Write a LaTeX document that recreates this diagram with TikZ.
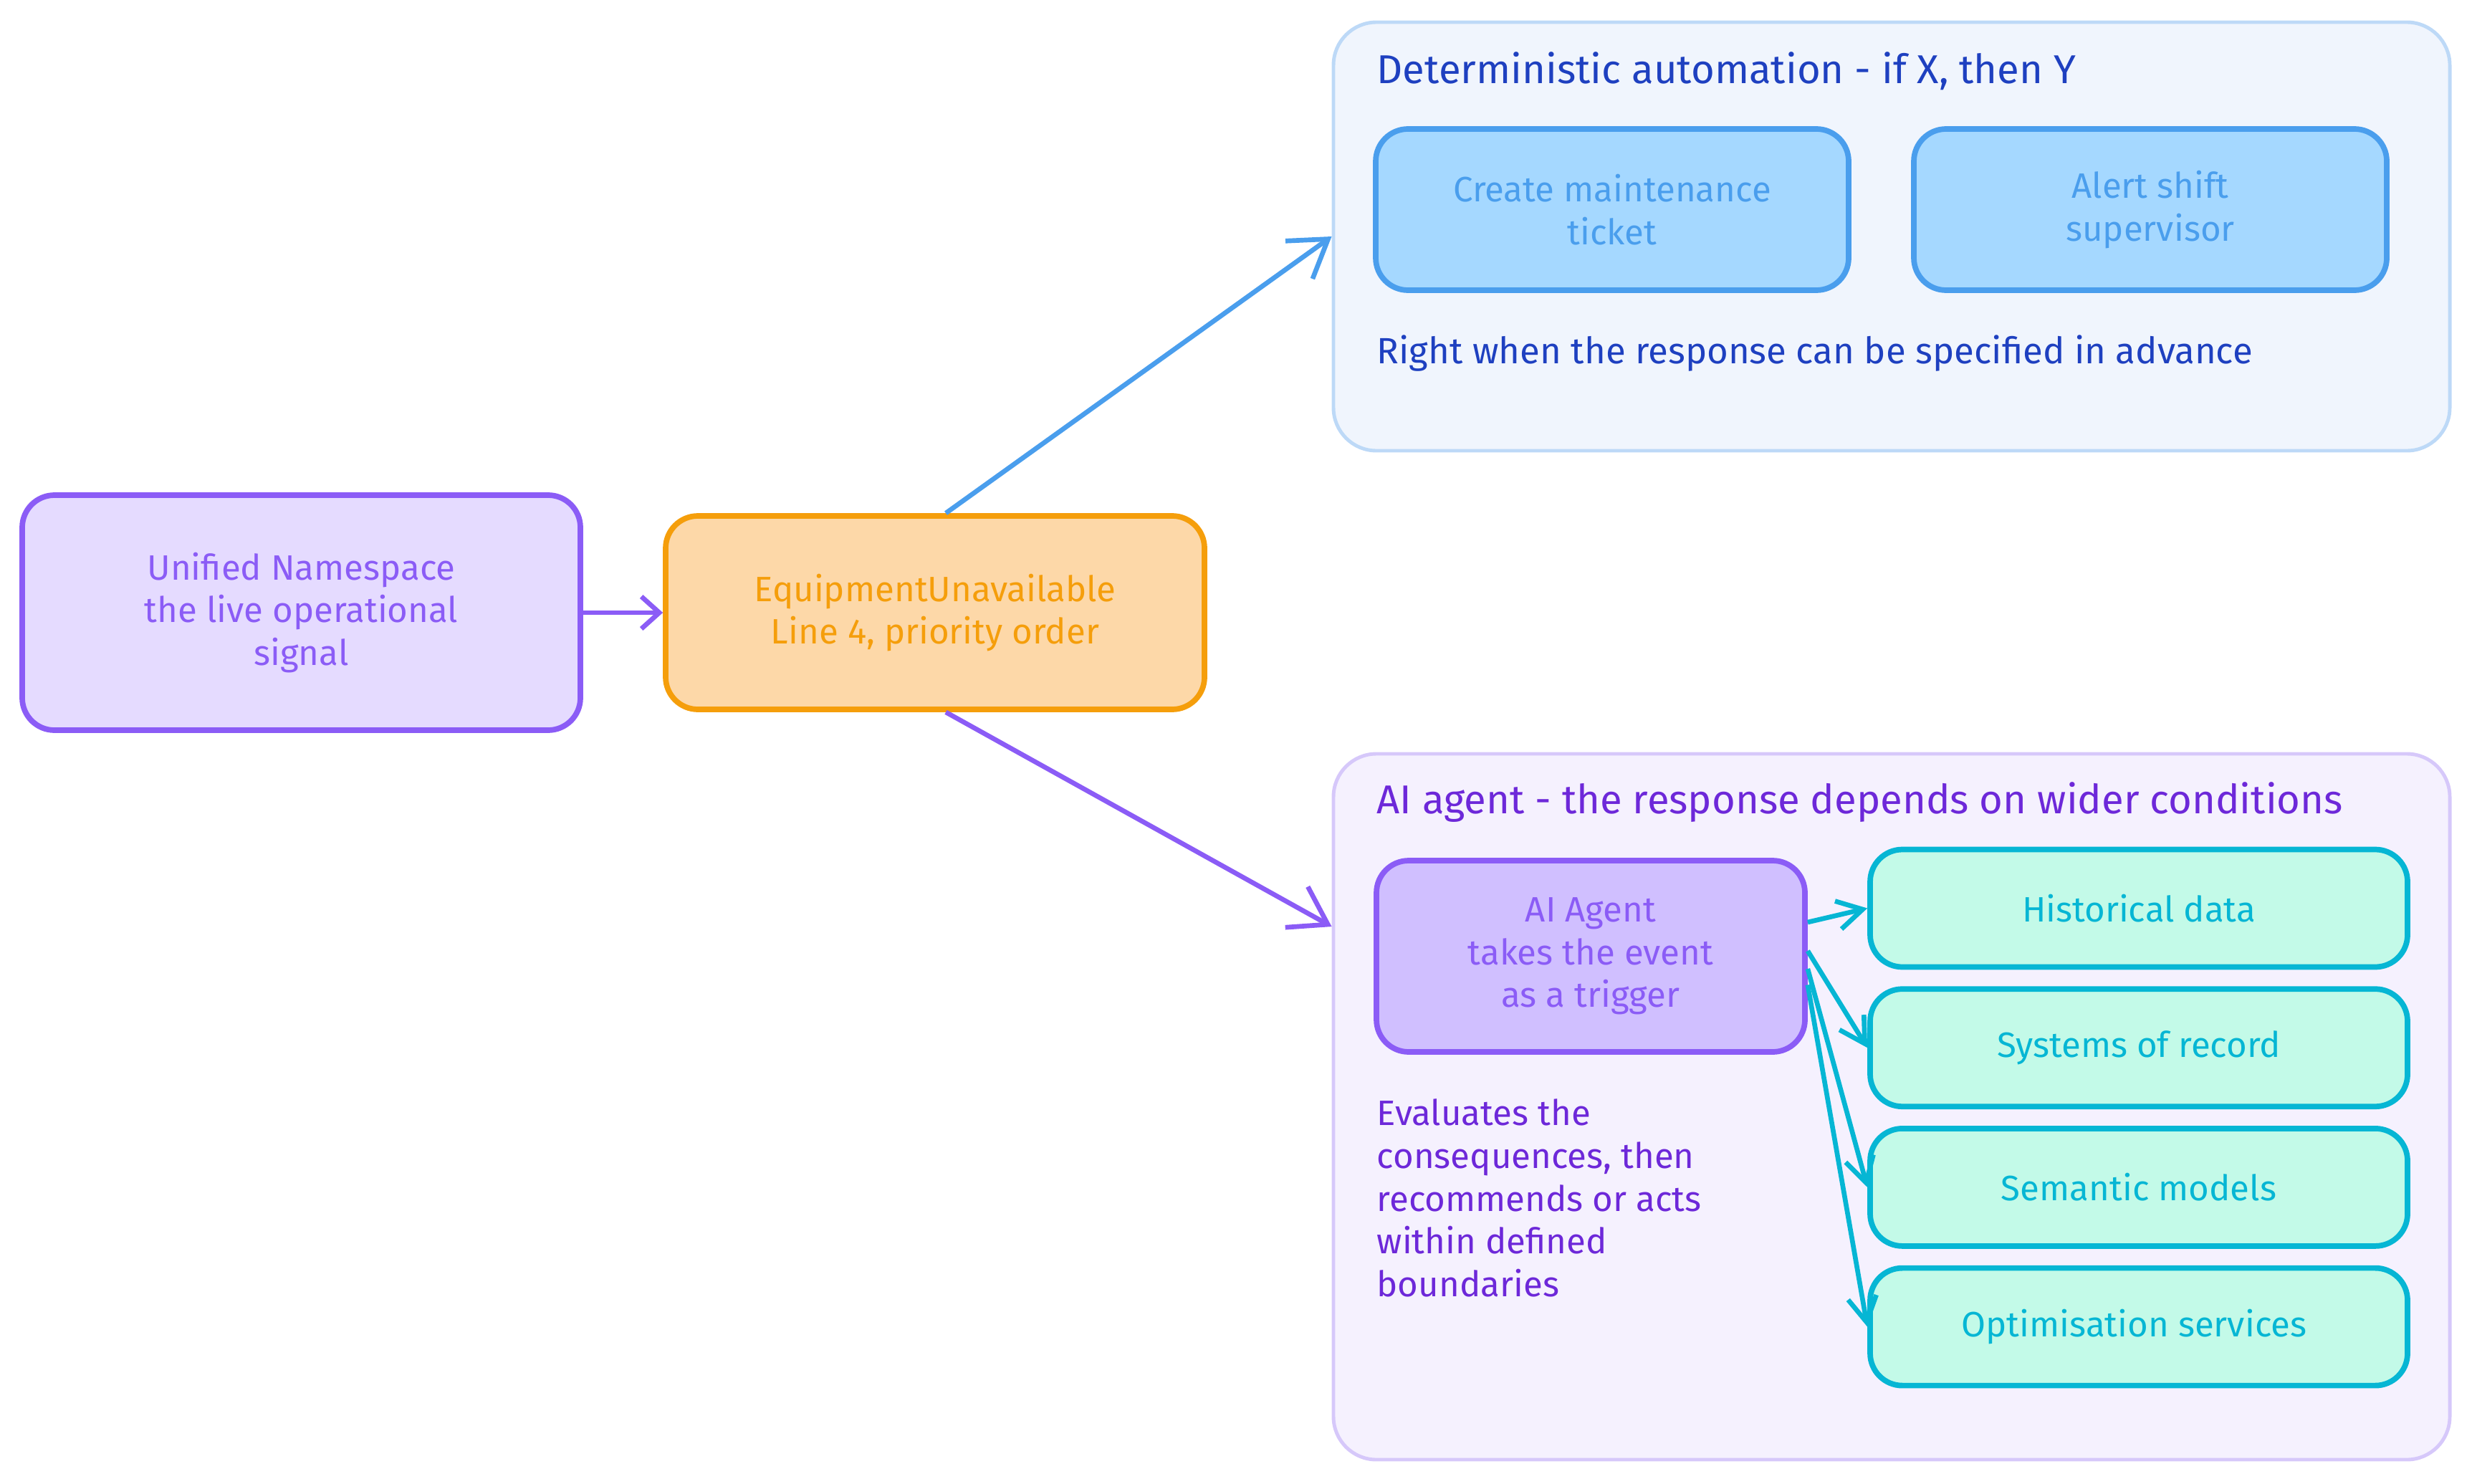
\documentclass[tikz,border=0pt]{standalone}
\usepackage{fontspec}
\setmainfont{Fira Sans}
\usetikzlibrary{arrows.meta,positioning,calc}

\definecolor{violetline}{HTML}{8B5CF6}
\definecolor{unsfill}{HTML}{E5DBFF}
\definecolor{eventline}{HTML}{F59E0B}
\definecolor{eventfill}{HTML}{FDD8A8}
\definecolor{actline}{HTML}{4A9EED}
\definecolor{actfill}{HTML}{A5D8FF}
\definecolor{detline}{HTML}{BDD9F7}
\definecolor{detfill}{HTML}{F0F5FD}
\definecolor{dettext}{HTML}{1E40C0}
\definecolor{ailine}{HTML}{D6C8FA}
\definecolor{aifill}{HTML}{F5F1FE}
\definecolor{aitext}{HTML}{6D28D9}
\definecolor{agentfill}{HTML}{D0BFFF}
\definecolor{tealline}{HTML}{06B6D4}
\definecolor{tealfill}{HTML}{C3FAE8}

\begin{document}
\begin{tikzpicture}[>=Stealth,
    font=\fontsize{14}{17}\selectfont,
    box/.style={draw, line width=2.2pt, rounded corners=0.45cm,
        align=center, inner sep=0pt},
    unsbox/.style={box, draw=violetline, fill=unsfill, text=violetline,
        minimum width=7.79cm, minimum height=3.28cm},
    eventbox/.style={box, draw=eventline, fill=eventfill, text=eventline,
        minimum width=7.52cm, minimum height=2.70cm},
    actbox/.style={box, draw=actline, fill=actfill, text=actline,
        minimum width=6.60cm, minimum height=2.25cm},
    agentbox/.style={box, draw=violetline, fill=agentfill, text=violetline,
        minimum width=5.98cm, minimum height=2.67cm},
    sourcebox/.style={box, draw=tealline, fill=tealfill, text=tealline,
        minimum width=7.50cm, minimum height=1.64cm},
    panel/.style={draw, line width=1.4pt, rounded corners=0.6cm,
        minimum width=15.58cm, inner sep=0pt},
    note/.style={anchor=west, inner sep=0pt, align=left},
    heading/.style={note, font=\fontsize{16}{19}\selectfont},
    flow/.style={->, line width=1.9pt,
        -{Straight Barb[length=5mm,width=6.5mm,line width=1.9pt]}},
    shortflow/.style={->, line width=1.9pt,
        -{Straight Barb[length=2.5mm,width=4.5mm,line width=1.9pt]}},
    toolflow/.style={->, line width=1.9pt, draw=tealline,
        -{Straight Barb[length=3.5mm,width=4mm,line width=1.9pt]}}]
  \useasboundingbox (0,0) rectangle (34.5,-20.7);

  % Panels that hold the two kinds of response.
  \node[panel, draw=detline, fill=detfill, minimum height=5.98cm]
      (detpanel) at (26.40,-3.30) {};
  \node[panel, draw=ailine, fill=aifill, minimum height=9.85cm]
      (aipanel) at (26.40,-15.445) {};

  % Signal and event.
  \node[unsbox] (uns) at (4.205,-8.55)
      {Unified Namespace\\the live operational\\signal};
  \node[eventbox] (event) at (13.05,-8.55)
      {EquipmentUnavailable\\Line 4, priority order};

  % Deterministic automation.
  \node[heading, text=dettext] (dettitle) at (19.21,-0.99)
      {Deterministic automation - if X, then Y};
  \node[actbox] (ticket) at (22.50,-2.925) {Create maintenance\\ticket};
  \node[actbox] (alert) at (30.01,-2.925) {Alert shift\\supervisor};
  \node[note, text=dettext, font=\fontsize{14.5}{17}\selectfont] (detnote)
      at (19.21,-4.93) {Right when the response can be specified in advance};

  % AI agent.
  \node[heading, text=aitext] (aititle) at (19.21,-11.20)
      {AI agent - the response depends on wider conditions};
  \node[agentbox] (agent) at (22.20,-13.345)
      {AI Agent\\takes the event\\as a trigger};
  \node[note, anchor=north west, text=aitext] (ainote) at (19.21,-15.33)
      {Evaluates the\\consequences, then\\recommends or acts\\within defined\\boundaries};

  \foreach \name/\txt [count=\i] in {
      hist/Historical data,
      records/Systems of record,
      models/Semantic models,
      optim/Optimisation services
  }{
      \node[sourcebox] (\name) at (29.85,{-12.675-1.947*(\i-1)}) {\txt};
  }

  % Connectors.
  \coordinate (aiin) at ($(aipanel.north west)!0.246!(aipanel.south west)$);
  \draw[shortflow, violetline] (uns) -- (event);
  \draw[flow, actline] ([xshift=0.15cm]event.north) -- (detpanel.west);
  \draw[flow, violetline] ([xshift=0.15cm]event.south) -- (aiin);

  \foreach \name/\dy in {hist/0.475, records/0.075, models/-0.175, optim/-0.40}{
      \draw[toolflow] ([yshift=\dy cm]agent.east) -- (\name.west);
  }
\end{tikzpicture}
\end{document}
